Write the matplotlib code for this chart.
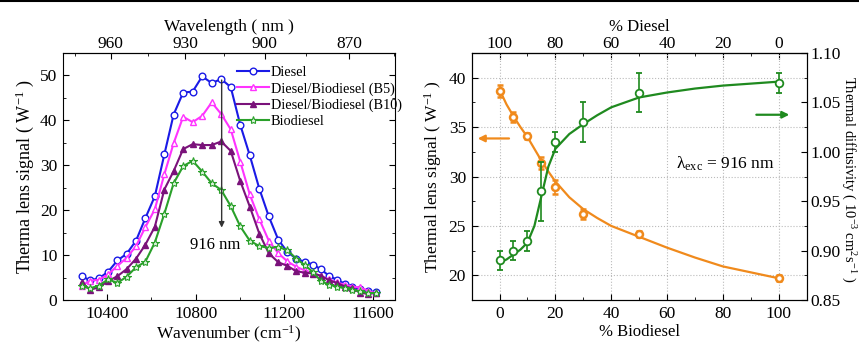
import matplotlib
matplotlib.use("Agg")
import matplotlib.pyplot as plt
from matplotlib.lines import Line2D
from matplotlib.ticker import MultipleLocator, FixedLocator

# ---- left panel: thermal lens spectra ----
WAVENUMBER = [10284, 10322, 10362, 10404, 10446, 10488, 10530, 10572, 10615, 10658,
              10700, 10743, 10786, 10829, 10872, 10915, 10958, 11001, 11044, 11087,
              11130, 11173, 11214, 11254, 11292, 11330, 11366, 11402, 11438, 11474,
              11508, 11543, 11578, 11613]

DIESEL = [5.3, 4.4, 4.8, 6.3, 8.8, 10.3, 13.2, 18.2, 23.1, 32.4,
          41.3, 46.2, 46.4, 49.8, 48.3, 49.2, 47.4, 39.0, 32.2, 24.8,
          18.6, 13.4, 10.7, 9.2, 8.5, 7.9, 6.8, 5.4, 4.5, 3.6,
          3.0, 2.4, 2.0, 1.7]
B5 = [3.2, 4.3, 4.5, 5.7, 7.6, 9.4, 12.0, 16.2, 20.2, 28.0,
      34.9, 40.8, 39.6, 41.0, 44.0, 41.4, 38.0, 30.8, 23.5, 18.0,
      13.2, 10.4, 8.6, 7.4, 6.6, 6.0, 5.3, 4.6, 3.9, 3.4,
      3.0, 2.8, 2.1, 1.5]
B10 = [3.9, 2.3, 2.8, 4.2, 5.3, 6.9, 9.2, 12.3, 16.3, 24.6,
       28.7, 33.6, 34.7, 34.5, 34.5, 35.3, 33.2, 26.5, 20.8, 14.8,
       10.4, 8.4, 7.6, 6.4, 6.1, 5.9, 5.4, 4.4, 3.8, 3.0,
       2.6, 1.6, 1.4, 1.6]
BIODIESEL = [3.1, 2.6, 3.2, 4.6, 3.8, 5.2, 7.3, 8.5, 12.8, 19.2,
             26.0, 29.8, 31.0, 28.6, 26.0, 24.5, 20.9, 16.4, 13.2, 12.0,
             11.6, 11.8, 11.1, 9.2, 7.8, 6.2, 4.2, 3.4, 3.0, 2.6,
             2.3, 1.9, 1.6, 1.5]

# ---- right panel: concentration dependence ----
BIO_PCT = [0, 5, 10, 15, 20, 30, 50, 100]
TL_SIGNAL = [38.65, 36.0, 34.1, 31.4, 28.9, 26.2, 24.2, 19.7]
TL_ERR = [0.6, 0.5, 0.3, 0.6, 0.7, 0.5, 0.3, 0.3]
DIFFUSIVITY = [0.890, 0.900, 0.910, 0.960, 1.010, 1.030, 1.060, 1.070]
DIFF_ERR = [0.010, 0.010, 0.010, 0.030, 0.010, 0.020, 0.020, 0.010]

# fitted curves
FIT_X = [0, 2.5, 5, 7.5, 10, 12.5, 15, 17.5, 20, 25, 30, 35, 40, 50, 60, 70, 80, 90, 100]
TL_FIT = [38.8, 37.3, 36.1, 35.0, 34.0, 32.8, 31.6, 30.5, 29.5, 27.9, 26.7, 25.8,
          25.0, 23.9, 22.8, 21.8, 20.9, 20.3, 19.7]
DIFF_FIT = [0.888, 0.891, 0.896, 0.901, 0.908, 0.925, 0.955, 0.985, 1.003, 1.018,
            1.028, 1.037, 1.045, 1.055, 1.060, 1.064, 1.067, 1.069, 1.071]

plt.rcParams["font.family"] = ["Liberation Serif", "DejaVu Serif"]
plt.rcParams["mathtext.default"] = "regular"
plt.rcParams["font.size"] = 12.5
plt.rcParams["xtick.direction"] = "in"
plt.rcParams["ytick.direction"] = "in"

fig = plt.figure(figsize=(8.59, 3.45), dpi=100)
fig.add_artist(Line2D([0, 1], [0.996, 0.996], color="black", lw=1.5))

# ================= left =================
ax = fig.add_axes([0.0733, 0.1304, 0.3865, 0.716])
ms = 4.8
ax.plot(WAVENUMBER, DIESEL, "-o", color="#1a1ae6", mfc="white", ms=ms, lw=1.5, mew=1, label="Diesel")
ax.plot(WAVENUMBER, B5, "-^", color="#ff33ff", mfc="white", ms=ms, lw=1.5, mew=1, label="Diesel/Biodiesel (B5)")
ax.plot(WAVENUMBER, B10, "-^", color="#7a127a", ms=ms, lw=1.5, mew=1, label="Diesel/Biodiesel (B10)")
ax.plot(WAVENUMBER, BIODIESEL, "-*", color="#2aa02a", mfc="#d8f0d8", ms=ms + 1.2, lw=1.5, mew=0.8, label="Biodiesel")

ax.set_xlim(10200, 11700)
ax.set_ylim(0, 55)
ax.xaxis.set_major_locator(MultipleLocator(400))
ax.xaxis.set_minor_locator(MultipleLocator(200))
ax.yaxis.set_major_locator(MultipleLocator(10))
ax.yaxis.set_minor_locator(MultipleLocator(5))
ax.tick_params(which="both", right=True, top=False)
ax.tick_params(which="major", length=4, pad=4)
ax.tick_params(which="minor", length=2.5)
ax.set_xlabel("Wavenumber (cm$^{-1}$)", fontsize=12.5, labelpad=2)
ax.set_ylabel("Therma lens signal ( W$^{-1}$ )", fontsize=13, labelpad=3)

top = ax.secondary_xaxis("top", functions=(lambda x: 1e7 / x, lambda x: 1e7 / x))
top.xaxis.set_major_locator(FixedLocator([960, 930, 900, 870]))
top.xaxis.set_minor_locator(FixedLocator([975, 945, 915, 885, 855]))
top.tick_params(which="major", length=4, direction="in", pad=0.5)
top.tick_params(which="minor", length=2.5, direction="in")
top.set_xlabel("Wavelength ( nm )", fontsize=12.5, labelpad=4)

ax.annotate("", xy=(10917, 15.5), xytext=(10917, 49.6),
            arrowprops=dict(arrowstyle="-|>", color="#333333", lw=1, mutation_scale=8))
ax.text(10890, 12.3, "916 nm", ha="center", va="center", fontsize=12)

ax.legend(loc="upper left", bbox_to_anchor=(0.516, 0.958), borderaxespad=0, frameon=False,
          fontsize=10.3, handlelength=2.2, handletextpad=0.15, labelspacing=0.2, borderpad=0.2)

# ================= right =================
bx = fig.add_axes([0.549, 0.1304, 0.39, 0.716])
bx.grid(True, which="major", ls=":", color="#bbbbbb", lw=0.8)
bx.set_axisbelow(True)
orange = "#f08a1c"
green = "#1f8a1f"
bx.plot(FIT_X, TL_FIT, "-", color=orange, lw=1.6)
bx.errorbar(BIO_PCT, TL_SIGNAL, yerr=TL_ERR, fmt="o", color=orange, mfc="white",
            ms=5, mew=1.8, capsize=2.5, elinewidth=1.2)
bx.set_xlim(-10, 110)
bx.set_ylim(17.5, 42.5)
bx.xaxis.set_major_locator(MultipleLocator(20))
bx.xaxis.set_minor_locator(MultipleLocator(10))
bx.yaxis.set_major_locator(MultipleLocator(5))
bx.yaxis.set_minor_locator(MultipleLocator(2.5))
bx.tick_params(which="major", length=4, pad=4)
bx.tick_params(which="minor", length=2.5)
bx.set_xlabel("% Biodiesel", fontsize=12, labelpad=2)
bx.set_ylabel("Thermal lens signal ( W$^{-1}$ )", fontsize=12.5, labelpad=3)
bx.annotate("", xy=(-8.8, 33.85), xytext=(4.4, 33.85),
            arrowprops=dict(arrowstyle="-|>", color=orange, lw=1.6, mutation_scale=10))
bx.text(81, 31.3, r"$\lambda_{exc}$ = 916 nm", ha="center", va="center", fontsize=12.5)

cx = bx.twinx()
cx.plot(FIT_X, DIFF_FIT, "-", color=green, lw=1.6)
cx.errorbar(BIO_PCT, DIFFUSIVITY, yerr=DIFF_ERR, fmt="o", color=green, mfc="white",
            ms=5.5, mew=1.3, capsize=2.5, elinewidth=1.2)
cx.set_ylim(0.85, 1.10)
cx.yaxis.set_major_locator(MultipleLocator(0.05))
cx.yaxis.set_minor_locator(MultipleLocator(0.025))
cx.yaxis.set_major_formatter(plt.FormatStrFormatter("%.2f"))
cx.tick_params(which="major", length=4, pad=3)
cx.tick_params(which="minor", length=2.5)
cx.set_ylabel("Thermal diffusivity ( 10$^{-3}$ cm$^{2}$s$^{-1}$ )", fontsize=10.5,
              rotation=270, va="center")
cx.yaxis.set_label_coords(1.125, 0.49)
cx.annotate("", xy=(104.8, 1.0375), xytext=(91.0, 1.0375),
            arrowprops=dict(arrowstyle="-|>", color=green, lw=1.6, mutation_scale=10))

top2 = bx.secondary_xaxis("top", functions=(lambda x: 100 - x, lambda x: 100 - x))
top2.xaxis.set_major_locator(MultipleLocator(20))
top2.xaxis.set_minor_locator(MultipleLocator(10))
top2.tick_params(which="major", length=4, direction="in", pad=0.5)
top2.tick_params(which="minor", length=2.5, direction="in")
top2.set_xlabel("% Diesel", fontsize=12, labelpad=4)

fig.savefig("out.png", dpi=100)
